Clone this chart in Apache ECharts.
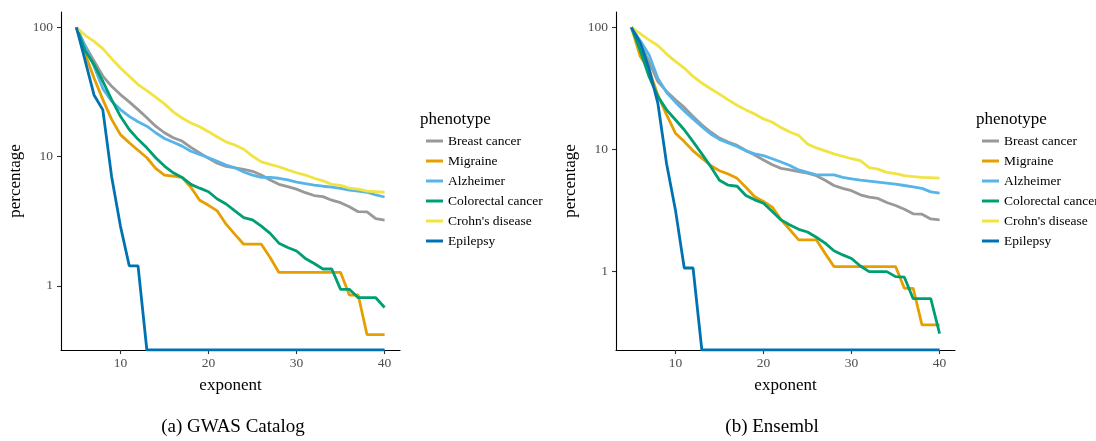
<!DOCTYPE html>
<html><head><meta charset="utf-8">
<script src="https://cdn.jsdelivr.net/npm/echarts@6/dist/echarts.min.js"></script>
<style>html,body{margin:0;padding:0;background:#fff}#c{width:1096px;height:441px}</style>
</head><body><div id="c"></div>
<script>
const exponent = [5,6,7,8,9,10,11,12,13,14,15,16,17,18,19,20,21,22,23,24,25,26,27,28,29,30,31,32,33,34,35,36,37,38,39,40];
const phenotypes = ['Breast cancer','Migraine','Alzheimer','Colorectal cancer',"Crohn's disease",'Epilepsy'];
const colors = ['#999999','#E69F00','#56B4E9','#009E73','#F0E442','#0072B2'];
const xTicks = [10,20,30,40];
const yTicks = [1,10,100];

// (a) GWAS Catalog
const gwasBreast = [100,72,55,42,35,30.2,26.5,23.1,20,17.2,15.3,14,13.2,11.8,10.7,9.7,8.9,8.4,8.2,7.95,7.7,7.2,6.6,6.1,5.85,5.6,5.26,5.0,4.9,4.6,4.4,4.1,3.75,3.73,3.31,3.23];
const gwasMigraine = [100,62,40.6,27.6,19.4,14.8,12.8,11.2,9.8,8.1,7.2,7.07,6.9,5.8,4.6,4.2,3.8,3.0,2.5,2.1,2.1,2.1,1.66,1.27,1.27,1.27,1.27,1.27,1.27,1.27,1.27,0.85,0.85,0.42,0.42,0.42];
const gwasAlzheimer = [100,71,50,33.6,26.8,23.1,20.5,18.6,17.2,15.3,13.8,12.9,12.05,11.0,10.4,9.8,9.2,8.6,8.2,7.6,7.2,6.9,6.9,6.8,6.6,6.35,6.17,6.03,5.9,5.8,5.68,5.5,5.4,5.3,5.05,4.87];
const gwasColorectal = [100,66,51.5,38.3,27.6,20.5,16.2,13.6,11.7,9.8,8.45,7.5,6.9,6.1,5.7,5.35,4.7,4.3,3.8,3.37,3.24,2.9,2.55,2.14,1.98,1.86,1.63,1.49,1.35,1.35,0.94,0.94,0.81,0.81,0.81,0.68];
const gwasCrohn = [100,86.8,78,68.4,57.3,48.5,41.9,36.1,32.4,28.8,25.6,22.2,19.9,18.2,17.0,15.6,14.2,13.0,12.3,11.4,10.1,9.1,8.7,8.35,7.9,7.5,7.2,6.8,6.5,6.1,6.0,5.7,5.6,5.4,5.35,5.3];
const gwasEpilepsy = [100,55,30,23,7.0,2.9,1.43,1.43,0,0,0,0,0,0,0,0,0,0,0,0,0,0,0,0,0,0,0,0,0,0,0,0,0,0,0,0];

// (b) Ensembl
const ensBreast = [100,75,52,36,29.9,25.5,22.1,18.6,15.9,13.9,12.4,11.5,10.8,9.8,9.0,8.2,7.5,7.0,6.8,6.6,6.4,6.1,5.6,5.07,4.8,4.6,4.25,4.07,3.97,3.68,3.48,3.24,2.97,2.95,2.7,2.65];
const ensMigraine = [100,58,45,28,19.2,13.6,11.6,9.75,8.5,7.4,6.7,6.3,5.8,4.9,4.1,3.75,3.37,2.65,2.2,1.82,1.82,1.82,1.41,1.1,1.1,1.1,1.1,1.1,1.1,1.1,1.1,0.73,0.73,0.366,0.366,0.366];
const ensAlzheimer = [100,77.8,59.7,38.4,29.3,24.4,20.7,17.8,15.4,13.4,12.1,11.3,10.6,9.75,9.2,8.9,8.4,7.9,7.4,6.8,6.5,6.2,6.2,6.2,5.9,5.75,5.6,5.5,5.4,5.3,5.2,5.07,4.95,4.8,4.5,4.4];
const ensColorectal = [100,65,39.6,27.2,21.1,17.5,14.5,11.6,9.2,7.25,5.6,5.1,5.0,4.2,3.87,3.63,3.1,2.65,2.41,2.22,2.11,1.91,1.71,1.48,1.37,1.28,1.11,1.0,1.0,1.0,0.91,0.9,0.6,0.6,0.6,0.31];
const ensCrohn = [100,89,79,71,60.4,52.6,46.4,39.6,35,31.4,28.4,25.5,23,21.1,19.5,17.8,16.7,15.1,13.9,13.0,11.1,10.3,9.75,9.2,8.8,8.4,8.1,7.1,6.9,6.5,6.35,6.1,6.0,5.9,5.88,5.82];
const ensEpilepsy = [100,75,46,24,7.6,3.2,1.07,1.07,0,0,0,0,0,0,0,0,0,0,0,0,0,0,0,0,0,0,0,0,0,0,0,0,0,0,0,0];

const panels = [
  {caption:'(a) GWAS Catalog', series:[gwasBreast,gwasMigraine,gwasAlzheimer,gwasColorectal,gwasCrohn,gwasEpilepsy], yMin:0.319, yMax:131.5, left:61, legendLeft:421, capX:233},
  {caption:'(b) Ensembl', series:[ensBreast,ensMigraine,ensAlzheimer,ensColorectal,ensCrohn,ensEpilepsy], yMin:0.228, yMax:133.6, left:616, legendLeft:977, capX:772}
];

const SERIF = 'Liberation Serif';
const chart = echarts.init(document.getElementById('c'), null, {renderer:'canvas'});
const option = {
  animation:false,
  backgroundColor:'#fff',
  grid: panels.map(p => ({left:p.left, top:12, width:339, height:338})),
  xAxis: panels.map((p,i) => ({
    type:'value', gridIndex:i, min:3.25, max:41.75,
    name:'exponent', nameLocation:'middle', nameGap:27,
    nameTextStyle:{fontFamily:SERIF, fontSize:17, color:'#000'},
    axisLine:{onZero:false, lineStyle:{color:'#000', width:1.1}},
    axisTick:{show:true, customValues:xTicks, length:4, lineStyle:{color:'#333', width:1.1}},
    axisLabel:{customValues:xTicks, fontFamily:SERIF, fontSize:13.5, color:'#4d4d4d', margin:6},
    splitLine:{show:false}
  })),
  yAxis: panels.map((p,i) => ({
    type:'log', logBase:10, gridIndex:i, min:p.yMin, max:p.yMax,
    name:'percentage', nameLocation:'middle', nameGap:37,
    nameTextStyle:{fontFamily:SERIF, fontSize:17, color:'#000'},
    axisLine:{show:true, lineStyle:{color:'#000', width:1.1}},
    axisTick:{show:true, customValues:yTicks, length:4, lineStyle:{color:'#333', width:1.1}},
    axisLabel:{customValues:yTicks, fontFamily:SERIF, fontSize:13.5, color:'#4d4d4d', margin:8},
    splitLine:{show:false}
  })),
  legend: panels.map(p => ({
    orient:'vertical', left:p.legendLeft, top:126, itemGap:0,
    icon:'rect', itemWidth:17, itemHeight:3,
    textStyle:{fontFamily:SERIF, fontSize:13.5, color:'#000', lineHeight:20},
    data:phenotypes, selectedMode:false
  })),
  graphic: [].concat(...panels.map(p => ([
    {type:'text', x:p.legendLeft-1, y:120, style:{text:'phenotype', fontFamily:SERIF, fontSize:17, fill:'#000', verticalAlign:'middle', align:'left'}},
    {type:'text', x:p.capX, y:427, style:{text:p.caption, fontFamily:SERIF, fontSize:19, fill:'#000', verticalAlign:'middle', align:'center'}}
  ]))),
  series: [].concat(...panels.map((p,gi) => p.series.map((vals,si) => ({
    type:'line', name:phenotypes[si], xAxisIndex:gi, yAxisIndex:gi,
    showSymbol:false, symbol:'none',
    lineStyle:{width:2.8, color:colors[si]}, itemStyle:{color:colors[si]},
    emphasis:{disabled:true},
    data: exponent.map((t,k) => [t, vals[k] === 0 ? p.yMin : vals[k]])
  }))))
};
chart.setOption(option);
</script></body></html>
